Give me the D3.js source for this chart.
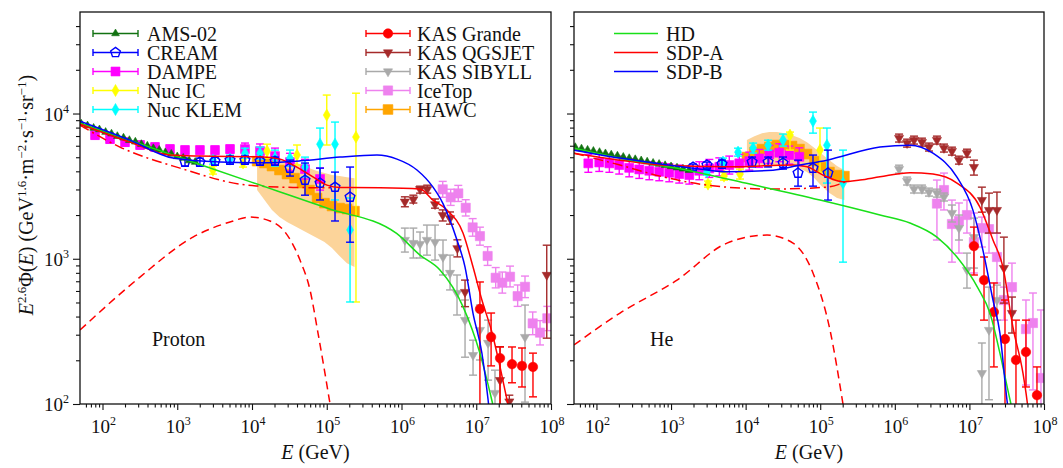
<!DOCTYPE html>
<html>
<head>
<meta charset="utf-8">
<script src="https://cdn.jsdelivr.net/npm/d3@7"></script>
<style>
  body { margin: 0; background: #fff; }
  svg { display: block; }
  text { font-family: "Liberation Serif", "Times New Roman", serif; fill: #111; }
</style>
</head>
<body>
<div id="chart"></div>
<script>
// ---------- Proton data (E in GeV, E^2.6 flux) ----------
var pAmsE = [52, 63, 76, 91, 110, 132, 158, 191, 229, 275, 331, 398, 479, 575, 692, 832, 1000, 1202, 1445, 1738];
var pAmsF = [8500, 8260, 7950, 7760, 7450, 7260, 6980, 6810, 6550, 6390, 6150, 5990, 5760, 5620, 5400, 5270, 5060, 4940, 4740, 4630];

var pCreamE = [1270, 2010, 3200, 5080, 8050, 12800, 20300, 32200, 51200, 81300, 129000, 205000];
var pCreamF = [4630, 4630, 4700, 4775, 4775, 4700, 4700, 4210, 3480, 3320, 3110, 2660];
var pCreamLo = [4350, 4350, 4410, 4480, 4480, 4410, 4410, 3710, 2740, 2540, 1820, 1300];
var pCreamHi = [4930, 4930, 5010, 5090, 5090, 5010, 5010, 4780, 4560, 4210, 3950, 4280];

var pDampeE = [79.4, 126, 200, 318, 504, 800, 1270, 2010, 3200, 5080, 8050, 12800, 20300, 32200, 51200, 81300];
var pDampeF = [7100, 6670, 6350, 6070, 5875, 5690, 5600, 5600, 5600, 5690, 5690, 5510, 5090, 4630, 4140, 3540];
var pDampeLo = [6670, 6260, 5960, 5700, 5520, 5340, 5260, 5260, 5260, 5340, 5170, 4920, 4480, 4030, 3540, 2970];
var pDampeHi = [7560, 7100, 6760, 6460, 6260, 6060, 5960, 5960, 5960, 6060, 6260, 6170, 5780, 5320, 4840, 4210];

var pNucIcE = [3000, 7590, 15900, 40000, 100000, 246000];
var pNucIcF = [4070, 4560, 5510, 5180, 9750, 6890];
var pNucIcLo = [3830, 4280, 4930, 4420, 6070, 504];
var pNucIcHi = [4340, 4860, 6150, 6070, 13400, 13800];

var pKlemE = [3010, 5080, 8050, 12800, 20300, 32200, 51200, 81300, 129000, 205000];
var pKlemF = [4775, 4850, 5330, 5330, 4930, 4930, 4280, 6150, 6150, 1580];
var pKlemLo = [4480, 4560, 4930, 4850, 4350, 4350, 3650, 3110, 2540, 504];
var pKlemHi = [5090, 5170, 5770, 5870, 5600, 5600, 5010, 7940, 8730, 2620];

var pHawcE = [11700, 14700, 18500, 23300, 29400, 37100, 46700, 58800, 74100, 93300, 117500, 148300, 186600, 235000];
var pHawcF = [4700, 4560, 4345, 4083, 3828, 3589, 3319, 2972, 2618, 2415, 2307, 2234, 2198, 2128];
var pHawcLo = [2972, 2535, 2163, 1936, 1791, 1679, 1578, 1479, 1387, 1303, 1186, 1045, 933, 877];
var pHawcHi = [5093, 5012, 4932, 4853, 4775, 4634, 4416, 4207, 4018, 3890, 3767, 3707, 3648, 3589];

var pQgsE = [1.11e6, 1.44e6, 1.77e6, 2.21e6, 2.81e6, 3.56e6, 4.46e6, 5.59e6, 7.08e6, 2.08e7, 2.77e7, 8.77e7];
var pQgsF = [2470, 2560, 3010, 3010, 2370, 2000, 1900, 1180, 590, 146, 104, 773];
var pQgsLo = [2280, 2420, 2830, 2830, 2230, 1820, 1730, 1030, 468, 80, 80, 284];
var pQgsHi = [2670, 2740, 3160, 3210, 2580, 2170, 2100, 1350, 713, 248, 115, 1240];

var pSibE = [1.11e6, 1.44e6, 1.77e6, 2.19e6, 2.81e6, 3.59e6, 4.46e6, 5.53e6, 7.08e6, 9.06e6, 1.12e7, 1.44e7, 1.78e7, 4.49e7];
var pSibF = [1346, 1282, 1262, 1346, 1303, 1028, 798, 581, 378, 217, 323, 263, 119, 289];
var pSibLo = [1112, 1012, 1012, 1059, 979, 773, 610, 410, 210, 158, 201, 146, 80, 103];
var pSibHi = [1626, 1626, 1528, 1706, 1706, 1346, 1059, 773, 520, 275, 480, 378, 171, 480];

var pGrandeE = [1.12e7, 1.58e7, 2.08e7, 3.01e7, 4.09e7, 5.74e7];
var pGrandeF = [451, 289, 207, 188, 183, 180];
var pGrandeLo = [80, 183, 80, 140, 131, 112];
var pGrandeHi = [692, 423, 247, 247, 243, 224];

var pIceE = [3.56e6, 4.55e6, 5.75e6, 7.23e6, 8.95e6, 1.12e7, 1.42e7, 1.82e7, 2.23e7, 2.83e7, 3.58e7, 4.49e7, 5.69e7, 7.13e7, 8.93e7];
var pIceF = [3006, 2649, 2818, 2244, 1644, 1432, 1045, 740, 684, 752, 553, 641, 359, 310, 389];
var pIceLo = [2650, 2330, 2480, 1970, 1430, 1240, 900, 630, 580, 640, 470, 540, 300, 255, 320];
var pIceHi = [3410, 3010, 3200, 2550, 1890, 1650, 1210, 870, 810, 890, 660, 760, 430, 375, 470];

// proton model curves
var pHdE = [50, 1000, 1e4, 1e5, 8.6e5, 1.77e6, 3.27e6, 6.65e6, 1.12e7, 1.61e7, 1.66e7];
var pHdF = [8590, 5050, 3357, 2234, 1493, 1059, 836, 468, 223, 107, 100];
var pSdpAE = [50, 233, 800, 2014, 12790, 23710, 35400, 65460, 100700, 150300, 515200, 1.77e6, 2.64e6, 4.06e6, 6.65e6, 9.06e6, 1.19e7, 1.63e7, 2.08e7, 2.58e7, 2.66e7];
var pSdpAF = [8450, 6353, 5176, 5093, 5035, 4853, 4416, 3664, 3214, 3097, 3083, 3020, 2535, 2168, 1503, 877, 520, 308, 180, 107, 100];
var pSdpBE = [50, 233, 877, 3733, 12790, 43850, 150300, 469900, 871000, 1.61e6, 2.64e6, 3.59e6, 5.52e6, 7.08e6, 9.04e6, 1.19e7, 1.44e7, 1.46e7];
var pSdpBF = [8870, 6561, 4932, 4634, 4581, 4721, 5012, 5176, 4853, 4083, 3112, 2399, 1346, 877, 423, 224, 107, 100];
var pBkgE = [50, 171, 1089, 8570, 35400, 110700];
var pBkgF = [8318, 5875, 4207, 3214, 3097, 3083];
var pSrcE = [50, 317, 1622, 5082, 9397, 17420, 27670, 43850, 59700, 76380, 110700];
var pSrcF = [323, 748, 1409, 1791, 1936, 1820, 1528, 979, 610, 308, 100];

// ---------- Helium data ----------
var hAmsE = [52, 63, 76, 91, 110, 132, 158, 191, 229, 275, 331, 398, 479, 575, 692, 832, 1000, 1202, 1445, 1738];
var hAmsF = [5860, 5730, 5620, 5520, 5420, 5310, 5210, 5120, 5020, 4920, 4840, 4750, 4660, 4570, 4490, 4400, 4320, 4240, 4160, 4070];

var hCreamE = [1970, 3030, 4820, 12200, 20000, 31700, 50400, 80000, 127000];
var hCreamF = [4276, 4416, 4487, 4634, 4634, 4560, 3890, 4207, 3890];
var hCreamLo = [4076, 4210, 4213, 4283, 4283, 4145, 3162, 3162, 2535];
var hCreamHi = [4486, 4633, 4779, 5014, 5014, 5016, 4775, 5176, 5598];

var hDampeE = [77.8, 109, 149, 202, 275, 375, 511, 695, 946, 1288, 1758, 2393, 3258, 4436, 6039, 8222, 11190, 15240, 20750, 28250, 38460, 52360];
var hDampeF = [4539, 4603, 4539, 4416, 4227, 4121, 4036, 3972, 3908, 3828, 3767, 4036, 4188, 4295, 4416, 4539, 4699, 4909, 5224, 5370, 5176, 5035];
var hDampeLo = [3937, 3992, 3937, 3830, 3666, 3574, 3500, 3445, 3389, 3320, 3267, 3500, 3632, 3725, 3830, 3937, 4075, 4258, 4531, 4657, 4489, 4367];
var hDampeHi = [5233, 5307, 5233, 5092, 4874, 4752, 4654, 4580, 4506, 4414, 4343, 4654, 4829, 4952, 5092, 5233, 5418, 5660, 6023, 6192, 5968, 5805];

var hNucIcE = [3130, 5130, 8400, 39300, 99300];
var hNucIcF = [3266, 3707, 3828, 7100, 5598];
var hNucIcLo = [3113, 3481, 3538, 5600, 3950];
var hNucIcHi = [3426, 3948, 4142, 7450, 7943];

var hKlemE = [3030, 4970, 7910, 12600, 20000, 31700, 80000, 123000, 202000];
var hKlemF = [3954, 4634, 5420, 5781, 6053, 6561, 8872, 6053, 3319];
var hKlemLo = [3769, 4351, 5089, 5343, 5594, 5965, 7328, 3319, 948];
var hKlemHi = [4148, 4935, 5772, 6255, 6549, 7217, 10230, 7943, 5598];

var hHawcE = [10400, 13100, 16600, 20800, 26300, 33200, 41800, 52700, 66400, 83800, 105000, 133000, 168000, 211000];
var hHawcF = [5012, 5420, 5689, 5875, 6067, 6067, 5970, 5689, 5260, 4699, 4276, 3954, 3767, 3707];
var hHawcLo = [4207, 4345, 4416, 4416, 4416, 4416, 4345, 4207, 3954, 3589, 3162, 2831, 2618, 2535];
var hHawcHi = [6561, 6982, 7328, 7447, 7447, 7328, 7096, 6776, 6353, 5781, 5260, 4775, 4345, 4074];

var hQgsE = [1.14e6, 1.46e6, 1.81e6, 2.31e6, 2.87e6, 3.67e6, 4.56e6, 5.83e6, 7.24e6, 9.27e6, 1.15e7, 1.47e7, 1.83e7, 2.34e7, 2.90e7, 3.72e7];
var hQgsF = [6776, 6252, 6561, 6353, 5875, 6561, 5781, 5508, 4775, 5333, 4276, 2535, 2163, 2163, 863, 423];
var hQgsLo = [6362, 5870, 6161, 5965, 5516, 6161, 5428, 5172, 4484, 5008, 3767, 2094, 1503, 1503, 495, 308];
var hQgsHi = [7216, 6658, 6987, 6766, 6257, 6987, 6157, 5866, 5085, 5680, 4775, 3112, 2831, 2877, 1409, 545];

var hSibE = [1.14e6, 1.46e6, 1.81e6, 2.31e6, 2.87e6, 3.67e6, 4.56e6, 5.83e6, 7.24e6, 9.27e6, 1.15e7, 1.47e7, 1.83e7, 2.34e7];
var hSibF = [4140, 3428, 3020, 3020, 2877, 2831, 2661, 2065, 1626, 836, 1409, 163, 323, 520];
var hSibLo = [3887, 3219, 2836, 2836, 2701, 2658, 2499, 1791, 1346, 628, 863, 80, 107, 378];
var hSibHi = [4409, 3651, 3216, 3216, 3064, 3015, 2834, 2344, 2000, 1094, 1905, 263, 638, 659];

var hGrandeE = [1.15e7, 1.57e7, 2.13e7, 3.00e7, 4.21e7, 5.73e7, 8.05e7];
var hGrandeF = [1222, 713, 430, 280, 201, 228, 115];
var hGrandeLo = [773, 378, 180, 80, 80, 131, 80];
var hGrandeHi = [1652, 1028, 681, 520, 378, 378, 180];

var hIceE = [3.67e6, 4.56e6, 5.83e6, 7.24e6, 9.27e6, 1.15e7, 1.47e7, 1.83e7, 2.34e7, 2.90e7, 3.72e7, 5.73e7, 7.11e7, 9.10e7];
var hIceF = [2399, 2972, 1734, 1820, 2000, 1303, 1626, 1600, 1028, 520, 638, 328, 361, 151];
var hIceLo = [1346, 2168, 948, 1094, 1503, 798, 1205, 1094, 681, 378, 423, 135, 125, 80];
var hIceHi = [3483, 3890, 2535, 2421, 2535, 2065, 1936, 2168, 1503, 638, 933, 520, 581, 444];

// helium model curves
var hHdE = [50, 282, 1637, 11430, 99300, 632400, 1.596e6, 3.673e6, 6.808e6, 1.303e7, 1.884e7, 2.564e7, 3.499e7, 3.606e7];
var hHdF = [5780, 4775, 4074, 3266, 2535, 2000, 1762, 1409, 1028, 628, 423, 224, 107, 100];
var hSdpAE = [50, 207, 711, 5623, 43150, 66530, 108900, 201800, 341200, 632400, 1.596e6, 3.243e6, 6.808e6, 1.384e7, 2.070e7, 2.812e7, 3.828e7, 5.224e7, 5.902e7, 6.000e7];
var hSdpAF = [5333, 4775, 4416, 4295, 4416, 4295, 3767, 3388, 3483, 3664, 3908, 3828, 3319, 2270, 1346, 877, 339, 163, 107, 100];
var hSdpBE = [50, 207, 1968, 5623, 23280, 53580, 123000, 632400, 1.596e6, 3.243e6, 6.808e6, 1.114e7, 1.517e7, 2.070e7, 2.564e7, 3.184e7, 3.236e7];
var hSdpBF = [5598, 4932, 4207, 3972, 4074, 4416, 4775, 5875, 6053, 5333, 3648, 2163, 1148, 520, 308, 107, 100];
var hBkgE = [50, 207, 711, 3034, 23280, 123000, 214300];
var hBkgF = [5333, 4416, 3707, 3214, 3020, 3112, 3373];
var hSrcE = [50, 207, 1202, 5623, 19360, 43150, 79980, 135200, 201800];
var hSrcF = [255, 423, 713, 1282, 1455, 1282, 798, 323, 100];

// axis ticks and legend labels
var xMajor = [1e2, 1e3, 1e4, 1e5, 1e6, 1e7, 1e8];
var yMajor = [1e2, 1e3, 1e4];
var legendLeft = ["AMS-02", "CREAM", "DAMPE", "Nuc IC", "Nuc KLEM"];
var legendRight = ["KAS Grande", "KAS QGSJET", "KAS SIBYLL", "IceTop", "HAWC"];
var modelNames = ["HD", "SDP-A", "SDP-B"];

// ---------- layout ----------
var svgWidth = 1063;
var svgHeight = 468;
var plotTop = 12, plotBottom = 404;

var svg = d3.select("#chart")
  .append("svg")
  .attr("width", svgWidth)
  .attr("height", svgHeight);

var defs = svg.append("defs");

// pentagon marker for CREAM
var symbolPentagon = {
  draw: function(ctx, size) {
    var r = Math.sqrt(size / 2.378);
    for (var i = 0; i < 5; i++) {
      var a = -Math.PI / 2 + i * 2 * Math.PI / 5;
      if (i === 0) ctx.moveTo(r * Math.cos(a), r * Math.sin(a));
      else ctx.lineTo(r * Math.cos(a), r * Math.sin(a));
    }
    ctx.closePath();
  }
};

var dataStyles = {
  "AMS-02":     { color: "#127212", symbol: d3.symbolTriangle, size: 26, fill: true },
  "CREAM":      { color: "#0000ff", symbol: symbolPentagon, size: 62, fill: false },
  "DAMPE":      { color: "#ff00ff", symbol: d3.symbolSquare, size: 80, fill: true },
  "Nuc IC":     { color: "#ffff00", symbol: d3.symbolDiamond, size: 42, fill: true },
  "Nuc KLEM":   { color: "#00ffff", symbol: d3.symbolDiamond, size: 42, fill: true },
  "KAS Grande": { color: "#ff0000", symbol: d3.symbolCircle, size: 70, fill: true },
  "KAS QGSJET": { color: "#a52a2a", symbol: d3.symbolTriangle, size: 36, fill: true, down: true },
  "KAS SIBYLL": { color: "#a9a9a9", symbol: d3.symbolTriangle, size: 36, fill: true, down: true },
  "IceTop":     { color: "#ee82ee", symbol: d3.symbolSquare, size: 85, fill: true },
  "HAWC":       { color: "#ffa500", symbol: d3.symbolSquare, size: 95, fill: true }
};
var modelStyles = {
  "HD":    { color: "#19e019", dash: null },
  "SDP-A": { color: "#ff0000", dash: null },
  "SDP-B": { color: "#0000ff", dash: null },
  "bkg":   { color: "#ff0000", dash: "10,4,2,4" },
  "src":   { color: "#ff0000", dash: "8,5" }
};

function zipSet(name, E, F, lo, hi) {
  return {
    name: name,
    points: E.map(function(e, i) {
      return { E: e, F: F[i], lo: lo ? lo[i] : null, hi: hi ? hi[i] : null };
    })
  };
}
function zipLine(name, E, F) {
  return { name: name, points: E.map(function(e, i) { return [e, F[i]]; }) };
}

var panels = [
  {
    id: "proton", label: "Proton", left: 80, right: 551, yLabels: true,
    band: zipSet("HAWC", pHawcE, pHawcF, pHawcLo, pHawcHi),
    sets: [
      zipSet("HAWC", pHawcE, pHawcF, null, null),
      zipSet("IceTop", pIceE, pIceF, pIceLo, pIceHi),
      zipSet("KAS SIBYLL", pSibE, pSibF, pSibLo, pSibHi),
      zipSet("KAS QGSJET", pQgsE, pQgsF, pQgsLo, pQgsHi),
      zipSet("KAS Grande", pGrandeE, pGrandeF, pGrandeLo, pGrandeHi),
      zipSet("DAMPE", pDampeE, pDampeF, pDampeLo, pDampeHi),
      zipSet("Nuc IC", pNucIcE, pNucIcF, pNucIcLo, pNucIcHi),
      zipSet("Nuc KLEM", pKlemE, pKlemF, pKlemLo, pKlemHi),
      zipSet("CREAM", pCreamE, pCreamF, pCreamLo, pCreamHi),
      zipSet("AMS-02", pAmsE, pAmsF, null, null)
    ],
    models: [
      zipLine("src", pSrcE, pSrcF),
      zipLine("bkg", pBkgE, pBkgF),
      zipLine("HD", pHdE, pHdF),
      zipLine("SDP-A", pSdpAE, pSdpAF),
      zipLine("SDP-B", pSdpBE, pSdpBF)
    ]
  },
  {
    id: "helium", label: "He", left: 574, right: 1044, yLabels: false,
    band: zipSet("HAWC", hHawcE, hHawcF, hHawcLo, hHawcHi),
    sets: [
      zipSet("HAWC", hHawcE, hHawcF, null, null),
      zipSet("IceTop", hIceE, hIceF, hIceLo, hIceHi),
      zipSet("KAS SIBYLL", hSibE, hSibF, hSibLo, hSibHi),
      zipSet("KAS QGSJET", hQgsE, hQgsF, hQgsLo, hQgsHi),
      zipSet("KAS Grande", hGrandeE, hGrandeF, hGrandeLo, hGrandeHi),
      zipSet("DAMPE", hDampeE, hDampeF, hDampeLo, hDampeHi),
      zipSet("Nuc IC", hNucIcE, hNucIcF, hNucIcLo, hNucIcHi),
      zipSet("Nuc KLEM", hKlemE, hKlemF, hKlemLo, hKlemHi),
      zipSet("CREAM", hCreamE, hCreamF, hCreamLo, hCreamHi),
      zipSet("AMS-02", hAmsE, hAmsF, null, null)
    ],
    models: [
      zipLine("src", hSrcE, hSrcF),
      zipLine("bkg", hBkgE, hBkgF),
      zipLine("HD", hHdE, hHdF),
      zipLine("SDP-A", hSdpAE, hSdpAF),
      zipLine("SDP-B", hSdpBE, hSdpBF)
    ]
  }
];

function markerPath(st) {
  return d3.symbol().type(st.symbol).size(st.size)();
}
function drawMarker(g, st, cx, cy) {
  g.append("path")
    .attr("d", markerPath(st))
    .attr("transform", "translate(" + cx + "," + cy + ")" + (st.down ? " rotate(180)" : ""))
    .attr("fill", st.fill ? st.color : "none")
    .attr("stroke", st.color)
    .attr("stroke-width", st.fill ? 0.6 : 1.4);
}

function powLabel(g, x, y, exp, anchor) {
  var t = g.append("text")
    .attr("x", x).attr("y", y)
    .attr("text-anchor", anchor)
    .style("font-size", "19px");
  t.append("tspan").text("10");
  t.append("tspan").attr("dy", -8).style("font-size", "12px").text(exp);
}

// minor tick values (2..9 of each decade)
function minorTicks(lo, hi) {
  var out = [];
  for (var d = 1; d <= 1e8; d *= 10) {
    for (var k = 2; k <= 9; k++) {
      var v = k * d;
      if (v > lo && v < hi) out.push(v);
    }
  }
  return out;
}

panels.forEach(function(p) {
  var x = d3.scaleLog().domain([50, 1e8]).range([p.left, p.right]);
  var y = d3.scaleLog().domain([100, 5e4]).range([plotBottom, plotTop]);
  var g = svg.append("g");

  // Clip region
  defs.append("clipPath").attr("id", "clip-" + p.id)
    .append("rect")
    .attr("x", p.left).attr("y", plotTop)
    .attr("width", p.right - p.left).attr("height", plotBottom - plotTop);
  var plot = g.append("g").attr("clip-path", "url(#clip-" + p.id + ")");

  // HAWC band
  plot.append("path")
    .datum(p.band.points)
    .attr("fill", "#fcd49a")
    .attr("d", d3.area()
      .x(function(d) { return x(d.E); })
      .y0(function(d) { return y(d.lo); })
      .y1(function(d) { return y(d.hi); }));

  // Data points with error bars
  p.sets.forEach(function(s) {
    var st = dataStyles[s.name];
    var sg = plot.append("g");
    s.points.forEach(function(d) {
      var cx = x(d.E), cy = y(d.F);
      if (d.lo !== null) {
        var y1 = y(d.hi), y2 = y(d.lo);
        sg.append("line").attr("x1", cx).attr("x2", cx).attr("y1", y1).attr("y2", y2)
          .attr("stroke", st.color).attr("stroke-width", 1.4);
        [y1, y2].forEach(function(yy) {
          sg.append("line").attr("x1", cx - 4).attr("x2", cx + 4).attr("y1", yy).attr("y2", yy)
            .attr("stroke", st.color).attr("stroke-width", 1.4);
        });
      }
      drawMarker(sg, st, cx, cy);
    });
  });

  // Model curves
  var line = d3.line()
    .x(function(d) { return x(d[0]); })
    .y(function(d) { return y(d[1]); })
    .curve(d3.curveMonotoneX);
  p.models.forEach(function(m) {
    var st = modelStyles[m.name];
    plot.append("path")
      .datum(m.points)
      .attr("fill", "none")
      .attr("stroke", st.color)
      .attr("stroke-width", 1.5)
      .attr("stroke-dasharray", st.dash)
      .attr("d", line);
  });

  // Axes
  var xMinorAxis = d3.axisBottom(x).tickValues(minorTicks(50, 1e8)).tickSize(3.5).tickSizeOuter(0).tickFormat("");
  var xMajorAxis = d3.axisBottom(x).tickValues(xMajor).tickSize(6).tickSizeOuter(0).tickFormat("");
  var yMinorAxis = d3.axisLeft(y).tickValues(minorTicks(100, 5e4)).tickSize(4).tickSizeOuter(0).tickFormat("");
  var yMajorAxis = d3.axisLeft(y).tickValues(yMajor).tickSize(7).tickSizeOuter(0).tickFormat("");
  [xMinorAxis, xMajorAxis].forEach(function(a) {
    g.append("g").attr("transform", "translate(0," + plotBottom + ")").call(a)
      .call(function(s) { s.select(".domain").remove(); s.selectAll("line").attr("stroke", "#111").attr("stroke-width", 1.1); });
  });
  [yMinorAxis, yMajorAxis].forEach(function(a) {
    g.append("g").attr("transform", "translate(" + p.left + ",0)").call(a)
      .call(function(s) { s.select(".domain").remove(); s.selectAll("line").attr("stroke", "#111").attr("stroke-width", 1.1); });
  });

  xMajor.forEach(function(v) {
    powLabel(g, x(v) + 1, 433, Math.round(Math.log10(v)), "middle");
  });
  if (p.yLabels) {
    yMajor.forEach(function(v) {
      powLabel(g, 69, y(v) + 7, Math.round(Math.log10(v)), "end");
    });
  }

  // Frame
  g.append("rect")
    .attr("x", p.left).attr("y", plotTop)
    .attr("width", p.right - p.left).attr("height", plotBottom - plotTop)
    .attr("fill", "none").attr("stroke", "#111").attr("stroke-width", 1.3);

  // Axis title
  var xt = g.append("text")
    .attr("x", (p.left + p.right) / 2).attr("y", 459)
    .attr("text-anchor", "middle")
    .style("font-size", "20px");
  xt.append("tspan").style("font-style", "italic").text("E");
  xt.append("tspan").text(" (GeV)");

  // Panel label
  g.append("text")
    .attr("x", p.left + (p.id === "proton" ? 72 : 76)).attr("y", 346)
    .style("font-size", "20px")
    .text(p.label);
});

// ---------- Legends ----------
function dataLegend(names, x1, x2, tx) {
  names.forEach(function(n, i) {
    var st = dataStyles[n];
    var yy = 33.5 + i * 19;
    var lg = svg.append("g");
    lg.append("line").attr("x1", x1).attr("x2", x2).attr("y1", yy).attr("y2", yy)
      .attr("stroke", st.color).attr("stroke-width", 1.4);
    [x1, x2].forEach(function(xx) {
      lg.append("line").attr("x1", xx).attr("x2", xx).attr("y1", yy - 3.5).attr("y2", yy + 3.5)
        .attr("stroke", st.color).attr("stroke-width", 1.4);
    });
    drawMarker(lg, st, (x1 + x2) / 2, yy);
    lg.append("text").attr("x", tx).attr("y", yy + 7)
      .style("font-size", "20px").text(n);
  });
}
dataLegend(legendLeft, 93, 138, 147);
dataLegend(legendRight, 366, 410, 417);

modelNames.forEach(function(n, i) {
  var yy = 33.5 + i * 19;
  svg.append("line").attr("x1", 614).attr("x2", 658).attr("y1", yy).attr("y2", yy)
    .attr("stroke", modelStyles[n].color).attr("stroke-width", 1.5);
  svg.append("text").attr("x", 666).attr("y", yy + 7)
    .style("font-size", "20px").text(n);
});

// ---------- Y axis title ----------
var yt = svg.append("text")
  .attr("transform", "translate(33,195) rotate(-90)")
  .attr("text-anchor", "middle")
  .style("font-size", "20px");
var parts = [
  ["E", "i"], ["2.6", "s"], ["\u03a6(", "n"], ["E", "i"], [") (GeV", "n"], ["1.6", "s"],
  ["\u00b7m", "n"], ["\u22122", "s"], ["\u00b7s", "n"], ["\u22121", "s"], ["\u00b7sr", "n"], ["\u22121", "s"], [")", "n"]
];
var prevSup = false;
parts.forEach(function(pt) {
  var ts = yt.append("tspan").text(pt[0]);
  if (pt[1] === "i") ts.style("font-style", "italic");
  if (pt[1] === "s") {
    ts.attr("dy", -7).style("font-size", "13px");
    prevSup = true;
  } else if (prevSup) {
    ts.attr("dy", 7);
    prevSup = false;
  }
});
</script>
</body>
</html>
